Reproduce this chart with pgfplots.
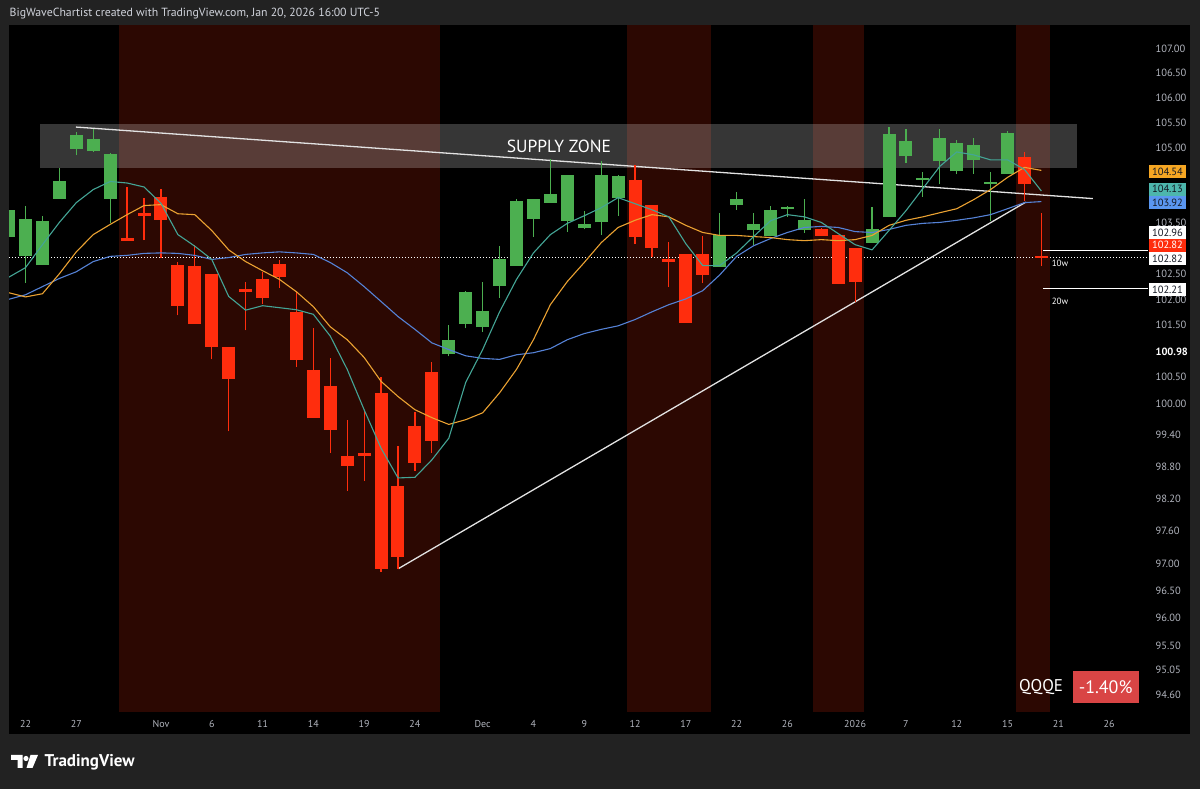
\documentclass[border=0pt]{standalone}
\usepackage{fontspec}
\setmainfont{PT Sans}
\usepackage{pgfplots}
\usepackage{pgfplotstable}
\pgfplotsset{compat=1.18}
\definecolor{bgout}{HTML}{222222}
\definecolor{band}{HTML}{2C0802}
\definecolor{cgreen}{HTML}{4CAF50}
\definecolor{cred}{HTML}{FF2D0D}
\definecolor{cteal}{HTML}{4DB6AC}
\definecolor{lteal}{HTML}{44A596}
\definecolor{corange}{HTML}{F5A623}
\definecolor{lorange}{HTML}{EBA232}
\definecolor{cblue}{HTML}{5A96F0}
\definecolor{lblue}{HTML}{5582D6}
\definecolor{tickc}{HTML}{B2B5BE}
\definecolor{hdr}{HTML}{D1D4DC}
\definecolor{pctred}{HTML}{D94545}
\definecolor{boxtext}{HTML}{131722}
\definecolor{trend}{HTML}{E2E2E2}

\pgfplotstableread{
i o h l c
-1 103.22 103.84 103.15 103.76
0 102.84 103.84 102.33 103.58
1 102.67 103.63 102.67 103.54
2 103.98 104.59 103.98 104.32
3 104.97 105.31 104.84 105.24
4 104.92 105.36 104.91 105.18
5 103.98 104.89 103.50 104.87
25 100.94 101.50 100.90 101.22
26 101.53 102.16 101.44 102.15
27 101.46 102.34 101.38 101.78
28 102.26 103.04 102.03 102.78
29 102.66 103.98 102.66 103.93
30 103.58 103.98 103.23 103.98
31 103.90 104.76 103.90 104.08
32 103.54 104.44 103.33 104.44
33 103.39 103.74 103.37 103.47
34 103.51 104.72 103.26 104.44
35 103.99 104.44 103.64 104.42
41 102.64 103.70 102.64 103.26
42 103.85 104.12 103.76 103.98
43 103.35 103.70 103.07 103.47
44 103.24 103.84 103.24 103.76
45 103.77 103.84 103.62 103.82
46 103.35 103.98 103.30 103.55
50 103.11 103.82 103.11 103.38
51 103.61 105.41 103.61 105.26
52 104.82 105.36 104.69 105.12
53 104.35 104.50 104.02 104.39
54 104.72 105.36 104.26 105.19
55 104.52 105.14 104.46 105.09
56 104.74 105.19 104.47 105.05
57 104.27 104.51 103.53 104.31
58 104.47 105.32 104.47 105.29
}\greencandles

\pgfplotstableread{
i o h l c
6 103.20 104.21 103.15 103.15
7 103.69 103.99 103.16 103.63
8 104.02 104.17 102.81 103.56
9 102.67 102.74 101.69 101.87
10 102.65 103.07 101.53 101.53
11 102.50 102.50 100.84 101.07
12 101.09 101.09 99.47 100.47
13 102.20 102.35 101.40 102.15
14 102.39 102.54 101.92 102.02
15 102.69 102.76 102.22 102.43
16 101.76 102.17 100.70 100.82
17 100.64 101.45 99.73 99.73
18 100.33 100.86 99.06 99.50
19 99.01 99.68 98.35 98.82
20 99.05 99.86 98.54 99.01
21 100.19 100.51 96.84 96.90
22 98.43 99.20 96.90 97.11
23 99.58 99.83 98.72 98.87
24 100.60 100.79 99.06 99.28
36 104.36 104.64 103.09 103.22
37 103.86 103.86 102.83 103.01
38 102.79 103.12 102.24 102.74
39 102.88 102.88 101.55 101.55
40 102.88 103.24 102.32 102.48
47 103.38 103.40 103.24 103.24
48 103.25 103.25 102.30 102.30
49 103.00 103.00 101.96 102.34
59 104.81 104.91 103.93 104.27
60 102.84 103.70 102.65 102.82
}\redcandles

\pgfplotstableread{
i teal orange blue
-1 102.43 102.13 102.00
0 102.62 102.05 102.09
1 103.07 102.11 102.25
2 103.51 102.50 102.41
3 103.90 102.93 102.54
4 104.16 103.27 102.74
5 104.32 103.47 102.84
6 104.29 103.66 102.86
7 104.21 103.84 102.90
8 103.89 103.86 102.91
9 103.27 103.68 102.90
10 103.04 103.66 102.86
11 102.78 103.35 102.78
12 102.06 102.97 102.82
13 101.79 102.74 102.88
14 101.88 102.56 102.91
15 101.84 102.39 102.93
16 101.80 102.15 102.91
17 101.71 101.86 102.88
18 101.29 101.47 102.72
19 100.65 101.22 102.52
20 99.88 100.88 102.25
21 99.15 100.42 101.96
22 98.59 100.13 101.67
23 98.60 99.88 101.42
24 98.93 99.73 101.16
25 99.34 99.60 101.03
26 100.40 99.69 100.91
27 101.03 99.82 100.86
28 101.76 100.20 100.84
29 102.39 100.65 100.93
30 102.91 101.22 100.97
31 103.27 101.90 101.05
32 103.49 102.35 101.22
33 103.64 102.72 101.34
34 103.80 103.11 101.42
35 104.00 103.41 101.49
36 103.88 103.55 101.61
37 103.76 103.66 101.76
38 103.62 103.62 101.90
39 103.09 103.45 102.01
40 102.66 103.31 102.17
41 102.66 103.25 102.48
42 102.91 103.25 102.84
43 103.23 103.23 103.05
44 103.54 103.21 103.19
45 103.66 103.17 103.31
46 103.62 103.15 103.41
47 103.51 103.17 103.43
48 103.29 103.15 103.41
49 103.07 103.17 103.33
50 102.97 103.25 103.31
51 103.35 103.45 103.37
52 103.74 103.55 103.45
53 104.18 103.62 103.49
54 104.62 103.70 103.51
55 104.91 103.78 103.55
56 104.85 103.96 103.60
57 104.75 104.16 103.66
58 104.75 104.40 103.78
59 104.56 104.60 103.90
60 104.13 104.54 103.92
}\mas

% draw one candle per table row: wick (low-high) and body (open-close)
\newcommand\drawcandles[2]{%
  \pgfplotstablegetrowsof{#1}%
  \pgfmathtruncatemacro\nrows{\pgfplotsretval-1}%
  \pgfplotsforeachungrouped \r in {0,...,\nrows}{%
    \pgfplotstablegetelem{\r}{i}\of#1\let\ci\pgfplotsretval
    \pgfplotstablegetelem{\r}{o}\of#1\let\co\pgfplotsretval
    \pgfplotstablegetelem{\r}{h}\of#1\let\ch\pgfplotsretval
    \pgfplotstablegetelem{\r}{l}\of#1\let\cl\pgfplotsretval
    \pgfplotstablegetelem{\r}{c}\of#1\let\cc\pgfplotsretval
    \edef\cmd{%
      \noexpand\addplot[draw=#2, line width=1.2pt, mark=none, forget plot] coordinates {(\ci,\cl) (\ci,\ch)};%
      \noexpand\addplot[draw=#2, line width=13pt, line cap=butt, mark=none, forget plot] coordinates {(\ci,\co) (\ci,\cc)};%
    }\cmd
  }%
}

\begin{document}
\begin{tikzpicture}[x=1pt,y=1pt]
\useasboundingbox (0,0) rectangle (1200,789);
\fill[bgout] (0,0) rectangle (1200,789);
\fill[black] (9,55) rectangle (1190,764);
\begin{axis}[
  at={(9pt,77pt)}, anchor=south west,
  width=1139pt, height=687pt, scale only axis,
  xmin=-0.975, xmax=66.30,
  y coord trafo/.code={\pgfmathparse{ln(#1)}},
  ymin=94.294, ymax=107.484,
  clip mode=individual,
  axis line style={draw=none},
  major tick length=0pt, minor tick length=0pt,
  xtick={0,3,8,11,14,17,20,23,27,30,33,36,39,42,45,49,52,55,58,61,64},
  xticklabels={22,27,Nov,6,11,14,19,24,Dec,4,9,12,17,22,26,2026,7,12,15,21,26},
  xticklabel style={font=\fontsize{10}{12}\selectfont, text=tickc, yshift=-5pt},
  ytick={94.6,95.05,95.5,96,96.5,97,97.6,98.2,98.8,99.4,100,100.5,100.98,101.5,102,102.5,103.5,105,105.5,106,106.5,107},
  yticklabels={94.60,95.05,95.50,96.00,96.50,97.00,97.60,98.20,98.80,99.40,100.00,100.50,{\bfseries\color{white}100.98},101.50,102.00,102.50,103.50,105.00,105.50,106.00,106.50,107.00},
  yticklabel pos=right,
  yticklabel style={font=\fontsize{10.5}{12}\selectfont, text=tickc, anchor=west, xshift=4pt},
]
% shaded periods
\fill[band] (axis cs:5.5,94.294) rectangle (axis cs:24.5,107.484);
\fill[band] (axis cs:35.5,94.294) rectangle (axis cs:40.5,107.484);
\fill[band] (axis cs:46.5,94.294) rectangle (axis cs:49.5,107.484);
\fill[band] (axis cs:58.5,94.294) rectangle (axis cs:60.5,107.484);
% supply zone
\fill[white, fill opacity=0.21] (axis cs:0.86,104.59) rectangle (axis cs:62.13,105.47);
\node[text=white, font=\fontsize{17.5}{20}\selectfont] at (axis cs:31.51,105.02) {SUPPLY ZONE};
% trend lines
\addplot[trend, line width=1.3pt, mark=none] coordinates {(2.98,105.41) (63.04,103.98)};
\addplot[trend, line width=1.3pt, mark=none] coordinates {(22.02,96.90) (59.08,103.91)};
% dotted last price line
\addplot[white, line width=0.9pt, dash pattern=on 1pt off 2pt, mark=none] coordinates {(-0.975,102.82) (66.3,102.82)};
% 10w / 20w levels
\addplot[white, line width=1.2pt, mark=none] coordinates {(60.1,102.96) (66.3,102.96)};
\addplot[white, line width=1.2pt, mark=none] coordinates {(60.1,102.21) (66.3,102.21)};
\node[text=white, font=\fontsize{9}{10}\selectfont] at (axis cs:61.1,102.72) {10w};
\node[text=white, font=\fontsize{9}{10}\selectfont] at (axis cs:61.1,101.96) {20w};
% candles
\drawcandles{\greencandles}{cgreen}
\drawcandles{\redcandles}{cred}
% moving averages
\addplot[lblue, line width=1.1pt, mark=none] table[x=i, y=blue] {\mas};
\addplot[lorange, line width=1.1pt, mark=none] table[x=i, y=orange] {\mas};
\addplot[lteal, line width=1.1pt, mark=none] table[x=i, y=teal] {\mas};
\end{axis}
% header
\node[anchor=west, text=hdr, font=\fontsize{11.8}{13}\selectfont, inner sep=0pt] at (9.5,775) {BigWaveChartist created with TradingView.com, Jan 20, 2026 16:00 UTC-5};
% price boxes
\tikzset{pbox/.style={minimum width=37pt, minimum height=12.8pt, inner sep=0pt, font=\fontsize{10.5}{12}\selectfont}}
\node[pbox, fill=corange, text=boxtext] at (1167.5,617.3) {104.54};
\node[pbox, fill=cteal, text=boxtext] at (1167.5,599.7) {104.13};
\node[pbox, fill=cblue, text=boxtext] at (1167.5,586.5) {103.92};
\node[pbox, fill=white, text=boxtext] at (1167.5,556.2) {102.96};
\node[pbox, fill=cred, text=white] at (1167.5,543.7) {102.82};
\node[pbox, fill=white, text=boxtext] at (1167.5,530.3) {102.82};
\node[pbox, fill=white, text=boxtext] at (1167.5,499.5) {102.21};
% ticker and change
\node[text=white, font=\fontsize{17}{20}\selectfont] at (1041,101.5) {QQQE};
\fill[pctred] (1072.7,86.3) rectangle (1138.5,118);
\node[text=white, font=\fontsize{18}{20}\selectfont] at (1105.6,102.2) {-1.40\%};
% TradingView logo
\fill[white] (11,34) -- (22.5,34) -- (22.5,21) -- (17.5,21) -- (17.5,29) -- (11,29) -- cycle;
\fill[white] (26,30.5) circle (2.6);
\fill[white] (30.5,34) -- (38,34) -- (32.5,21) -- (26.5,21) -- cycle;
\node[anchor=base west, text=white, font=\bfseries\fontsize{17}{20}\selectfont, inner sep=0pt] at (44.5,22) {TradingView};
\end{tikzpicture}
\end{document}
